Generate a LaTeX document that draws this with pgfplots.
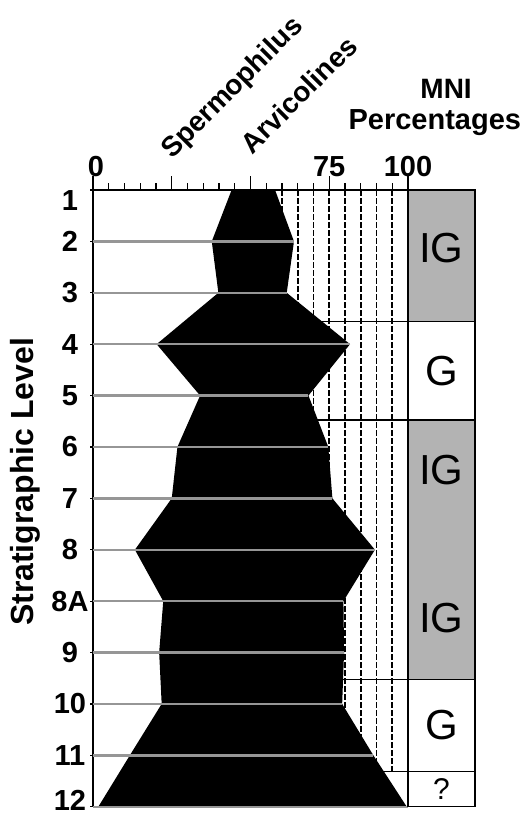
\documentclass[border=0pt]{standalone}
\usepackage{fontspec}
\setmainfont{Liberation Sans}
\usepackage{pgfplots}
\pgfplotsset{compat=1.18}
\definecolor{panelgray}{RGB}{179,179,179}
\definecolor{levgray}{RGB}{150,150,150}
\begin{document}
\begin{tikzpicture}
\useasboundingbox (0,0) rectangle (264pt,407pt);
\begin{axis}[
  at={(46.5pt,312pt)}, anchor=north west,
  scale only axis, width=191pt, height=308.35pt,
  xmin=0, xmax=121.27, ymin=1, ymax=13, y dir=reverse,
  clip=false,
  axis x line*=top, axis y line*=left,
  axis line style={line width=0.6pt, -},
  xtick={0,25,50,75,100},
  xticklabels={\hspace{3pt}0,,,75\hspace{1pt},100\hspace{14pt}},
  minor xtick={5,10,15,20,30,35,40,45,55,60,65,70,80,85,90,95},
  ytick={1,2,3,4,5,6,7,8,9,10,11,12,13},
  yticklabels={\raisebox{0pt}[20pt][0pt]{1},2,3,4,5,6,7,8,8A,9,10,11,\raisebox{0pt}[\height][6pt]{12}},
  tick align=outside,
  major tick length=7pt, minor tick length=3.5pt,
  ytick style={/pgfplots/major tick length=1.5pt},
  tick style={black, line width=0.6pt},
  /pgf/number format/assume math mode=true,
  tick label style={font=\bfseries\fontsize{14.5}{16}\selectfont},
  xticklabel style={anchor=south, inner sep=0pt, yshift=-0.5pt},
  yticklabel style={anchor=center, xshift=-4.5pt},
]
% dashed reference lines
\pgfplotsinvokeforeach{60,65,70,75,80,85,90,95}{
  \addplot[black, line width=0.8pt, dash pattern=on 3pt off 1pt] coordinates {(#1,1) (#1,12.317)};
}
% zone boundary lines extending left
\addplot[black, line width=0.6pt] coordinates {(55,3.562) (100,3.562)};
\addplot[black, line width=0.6pt] coordinates {(55,5.475) (100,5.475)};
\addplot[black, line width=0.6pt] coordinates {(55,10.52) (100,10.52)};
\addplot[black, line width=0.6pt] coordinates {(55,12.317) (100,12.317)};
% MNI polygon: left edge (Spermophilus) top to bottom, right edge back up
\addplot[fill=black, draw=none] coordinates {
  (44.0,1) (37.7,2) (39.8,3) (20.2,4) (34.0,5) (26.8,6) (25.0,7) (13.3,8)
  (22.3,9) (21.0,10) (21.8,11) (11.7,12) (1.7,13)
  (99.6,13) (89.0,12) (79.1,11) (79.7,10) (79.5,9) (89.5,8) (76.0,7)
  (74.7,6) (68.4,5) (81.6,4) (61.5,3) (63.8,2) (57.8,1) (44.0,1)
};
% gray level lines
\addplot[xcomb, levgray, line width=1.2pt] coordinates {
  (63.8,2) (61.5,3) (81.6,4) (68.4,5) (74.7,6) (76.0,7) (89.5,8)
  (79.5,9) (79.7,10) (79.1,11) (89.0,12) (100,13)
};
% right panel
\addplot[fill=panelgray, draw=black, line width=0.6pt] coordinates {(100,1) (121.27,1) (121.27,3.562) (100,3.562) (100,1)};
\addplot[fill=white, draw=black, line width=0.6pt] coordinates {(100,3.562) (121.27,3.562) (121.27,5.475) (100,5.475) (100,3.562)};
\addplot[fill=panelgray, draw=black, line width=0.6pt] coordinates {(100,5.475) (121.27,5.475) (121.27,10.52) (100,10.52) (100,5.475)};
\addplot[fill=white, draw=black, line width=0.6pt] coordinates {(100,10.52) (121.27,10.52) (121.27,12.317) (100,12.317) (100,10.52)};
\addplot[fill=white, draw=black, line width=0.6pt] coordinates {(100,12.317) (121.27,12.317) (121.27,13) (100,13) (100,12.317)};
\node[font=\fontsize{21}{23}\selectfont] at (axis cs:110.6,2.13) {IG};
\node[font=\fontsize{21}{23}\selectfont] at (axis cs:110.6,4.52) {G};
\node[font=\fontsize{21}{23}\selectfont] at (axis cs:110.6,6.45) {IG};
\node[font=\fontsize{21}{23}\selectfont] at (axis cs:110.6,9.33) {IG};
\node[font=\fontsize{21}{23}\selectfont] at (axis cs:110.6,11.41) {G};
\node[font=\fontsize{15}{17}\selectfont] at (axis cs:110.6,12.65) {?};
% headers
\node[rotate=45, anchor=base west, inner sep=0pt, font=\bfseries\fontsize{14}{16}\selectfont] at (axis cs:25.0,0.42) {Spermophilus};
\node[rotate=45, anchor=base west, inner sep=0pt, font=\bfseries\fontsize{14}{16}\selectfont] at (axis cs:50.5,0.33) {Arvicolines};
\node[anchor=base, inner sep=0pt, font=\bfseries\fontsize{14}{16}\selectfont] at (axis cs:112.1,-0.79) {MNI};
\node[anchor=base, inner sep=0pt, font=\bfseries\fontsize{14.5}{16}\selectfont] at (axis cs:108.5,-0.17) {Percentages};
\node[xshift=-34pt, rotate=90, font=\bfseries\fontsize{16}{18}\selectfont] at (axis cs:0,6.68) {Stratigraphic Level};
\end{axis}
\end{tikzpicture}
\end{document}
